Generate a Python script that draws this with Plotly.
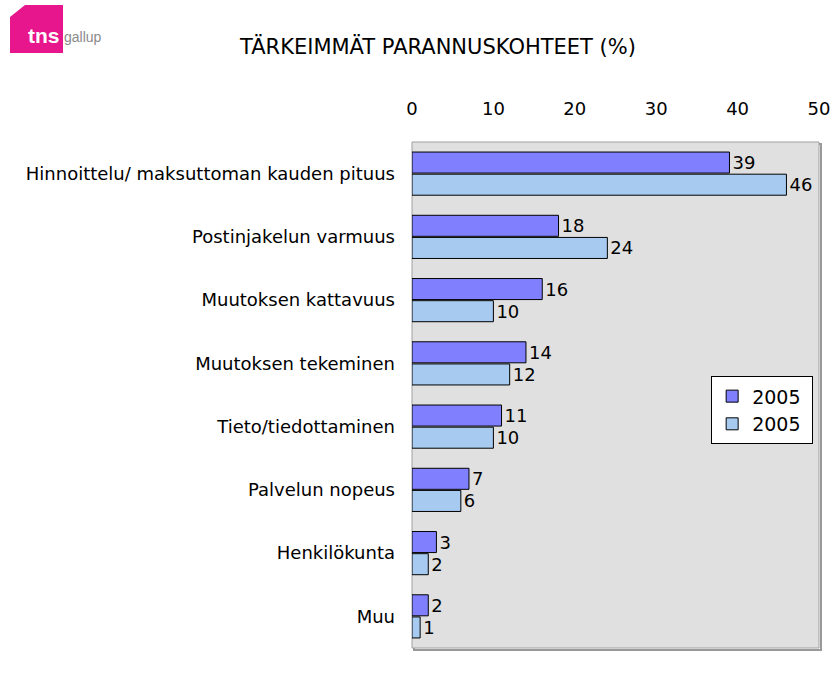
import plotly.graph_objects as go

categories = ["Hinnoittelu/ maksuttoman kauden pituus", "Postinjakelun varmuus",
              "Muutoksen kattavuus", "Muutoksen tekeminen", "Tieto/tiedottaminen",
              "Palvelun nopeus", "Henkilökunta", "Muu"]
series_a = [39, 18, 16, 14, 11, 7, 3, 2]
series_b = [46, 24, 10, 12, 10, 6, 2, 1]
name_a = "2005"
name_b = "2005 "
tick_vals = [0, 10, 20, 30, 40, 50]

FONT = "DejaVu Sans, Liberation Sans, Arial, sans-serif"
FS = 18

fig = go.Figure()
fig.add_trace(go.Bar(y=categories, x=series_a, orientation="h", name=name_a,
                     marker=dict(color="#8080FF", line=dict(color="#000000", width=1)),
                     text=[str(v) for v in series_a], textposition="outside",
                     textfont=dict(size=FS, color="black"), cliponaxis=False))
fig.add_trace(go.Bar(y=categories, x=series_b, orientation="h", name=name_b,
                     marker=dict(color="#A6CAF0", line=dict(color="#000000", width=1)),
                     text=[str(v) for v in series_b], textposition="outside",
                     textfont=dict(size=FS, color="black"), cliponaxis=False))

L, R, T, B = 412, 14, 142, 38
W, H = 833 - L - R, 686 - T - B
def px(xp): return (xp - L) / W
def py(yp): return (686 - B - yp) / H

fig.update_layout(
    width=833, height=686,
    margin=dict(l=L, r=R, t=T, b=B, autoexpand=False),
    paper_bgcolor="white", plot_bgcolor="#E0E0E0",
    font=dict(family=FONT, size=FS, color="black"),
    barmode="group", bargap=0.3, bargroupgap=0.05,
    showlegend=True,
    legend=dict(x=0.735, y=0.537, xanchor="left", yanchor="top",
                bgcolor="white", bordercolor="black", borderwidth=1,
                font=dict(size=19), traceorder="normal", itemwidth=30),
    xaxis=dict(side="top", range=[0, 50], tickvals=tick_vals, showgrid=False,
               zeroline=False, showline=False, ticks="", tickfont=dict(size=FS),
               ticklabelstandoff=22),
    yaxis=dict(autorange="reversed", showgrid=False, ticks="", showline=False,
               tickfont=dict(size=FS), ticklabelstandoff=16),
)
fig.add_annotation(text="TÄRKEIMMÄT PARANNUSKOHTEET (%)", x=px(437), y=py(47),
                   xref="paper", yref="paper", showarrow=False, font=dict(size=21),
                   xanchor="center", yanchor="middle")

# plot border with shadow
fig.add_shape(type="rect", xref="paper", yref="paper", x0=px(414), x1=px(821), y0=py(650), y1=py(144),
              line=dict(color="#999999", width=2), layer="below")
fig.add_shape(type="rect", xref="paper", yref="paper", x0=0, x1=1, y0=0, y1=1,
              line=dict(color="#A0A0A0", width=1), fillcolor="#E0E0E0", layer="below")

# logo
fig.add_shape(type="path", xref="paper", yref="paper",
              path=f"M {px(25)} {py(5)} L {px(63)} {py(5)} L {px(63)} {py(53)} L {px(10)} {py(53)} L {px(10)} {py(17)} Z",
              fillcolor="#E8168C", line=dict(width=0))
fig.add_annotation(text="<b>tns</b>", x=px(44), y=py(35), xref="paper", yref="paper",
                   showarrow=False, font=dict(size=21, color="white", family="Liberation Sans, Arial"),
                   xanchor="center", yanchor="middle")
fig.add_annotation(text="gallup", x=px(83), y=py(37), xref="paper", yref="paper",
                   showarrow=False, font=dict(size=14, color="#8a8a8a", family="Liberation Sans Narrow, Liberation Sans, Arial"),
                   xanchor="center", yanchor="middle")

fig.write_html("out.html", config={"displayModeBar": False},
               post_script="document.body.style.margin='0';document.body.style.overflow='hidden';")
